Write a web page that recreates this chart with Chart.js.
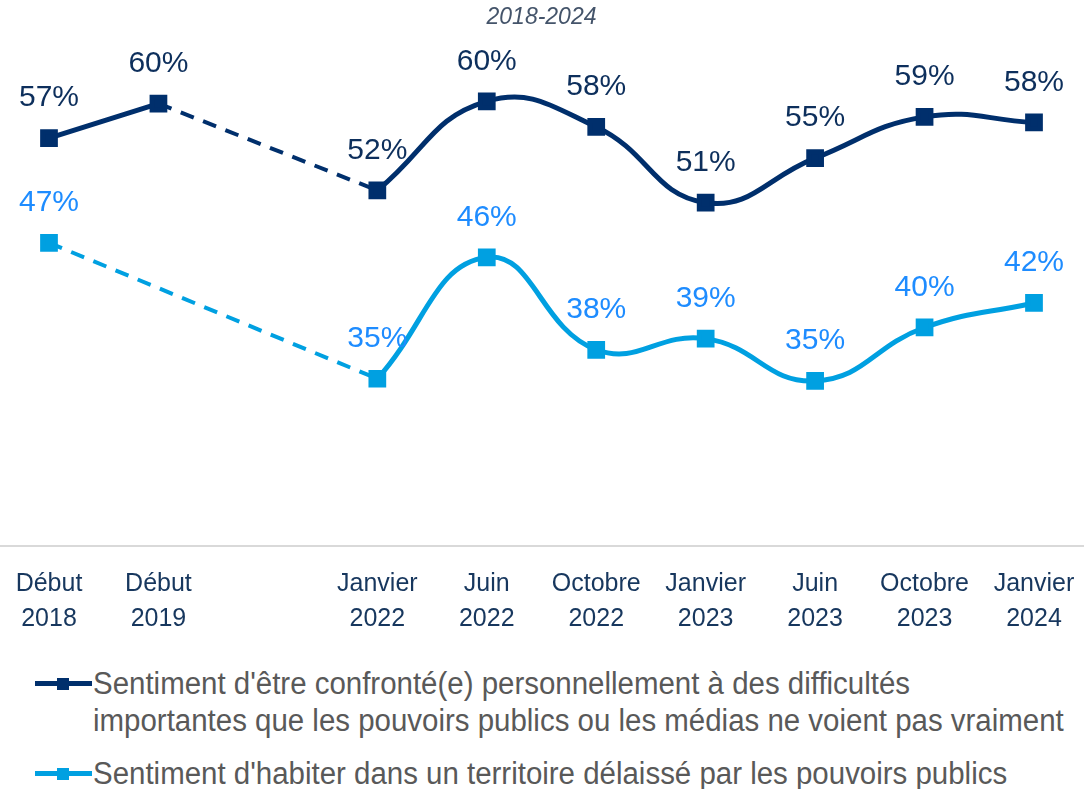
<!DOCTYPE html>
<html>
<head>
<meta charset="utf-8">
<script src="https://cdn.jsdelivr.net/npm/chart.js@4"></script>
<style>
    html, body { margin: 0; padding: 0; background: #fff; overflow: hidden; }
    body { width: 1084px; height: 789px; position: relative; }
    #wrap { position: absolute; left: -2px; top: 0; width: 1096px; height: 647px; }
    .item { position: absolute; left: 0; font-family: "Liberation Sans", Arial, sans-serif; font-size: 31px; line-height: 37px; color: #595959; }
    .item .mark { position: absolute; left: 35px; top: 16px; width: 57px; height: 5px; }
    .item .mark::after { content: ""; position: absolute; left: 22px; top: -3.5px; width: 12px; height: 12px; background: inherit; }
    .item .txt { position: absolute; left: 93px; top: 0; white-space: nowrap; transform: scaleX(0.95); transform-origin: 0 0; }
</style>
</head>
<body>
<div id="wrap"><canvas id="sentimentChart"></canvas></div>
<div class="item" style="top:665px"><span class="mark" style="background:#002f6c"></span><span class="txt">Sentiment d'être confronté(e) personnellement à des difficultés<br>importantes que les pouvoirs publics ou les médias ne voient pas vraiment</span></div>
<div class="item" style="top:755px"><span class="mark" style="background:#00a0e1"></span><span class="txt">Sentiment d'habiter dans un territoire délaissé par les pouvoirs publics</span></div>
<script>
// Données (en %)
const periods = [
    ["Début", "2018"], ["Début", "2019"], "",
    ["Janvier", "2022"], ["Juin", "2022"], ["Octobre", "2022"],
    ["Janvier", "2023"], ["Juin", "2023"], ["Octobre", "2023"], ["Janvier", "2024"],
];
const difficultes = [56.7, 59.8, null, 52.0, 60.0, 57.7, 50.9, 54.9, 58.6, 58.1];
const delaisse = [47.3, null, null, 35.1, 46.0, 37.7, 38.7, 34.9, 39.7, 41.9];

// portions en pointillés (entre points non consécutifs)
const difficultesGap = [null, 59.8, null, 52.0, null, null, null, null, null, null];
const delaisseGap = [47.3, null, null, 35.1, null, null, null, null, null, null];

const colors = {
    dark: "#002f6c",
    light: "#00a0e1",
    darkLabel: "#0d2f5c",
    lightLabel: "#1e8cff",
    axis: "#d9d9d9",
    tick: "#17375e",
    title: "#44546a",
};

// ligne d'axe sur toute la largeur
const axisLine = {
    id: "axisLine",
    beforeDatasetsDraw(chart) {
        const ctx = chart.ctx;
        ctx.save();
        ctx.strokeStyle = colors.axis;
        ctx.lineWidth = 2;
        ctx.beginPath();
        ctx.moveTo(0, chart.chartArea.bottom - 1);
        ctx.lineTo(chart.width, chart.chartArea.bottom - 1);
        ctx.stroke();
        ctx.restore();
    },
};

const valueLabels = {
    id: "valueLabels",
    afterDatasetsDraw(chart) {
        const ctx = chart.ctx;
        ctx.save();
        ctx.font = "30px 'Liberation Sans', Arial, sans-serif";
        ctx.textAlign = "center";
        ctx.textBaseline = "middle";
        [0, 1].forEach((di) => {
            const ds = chart.data.datasets[di];
            ctx.fillStyle = di === 0 ? colors.darkLabel : colors.lightLabel;
            chart.getDatasetMeta(di).data.forEach((pt, i) => {
                if (ds.data[i] == null) return;
                ctx.fillText(Math.round(ds.data[i]) + "%", pt.x, pt.y - 40);
            });
        });
        ctx.restore();
    },
};

const lineStyle = {
    borderWidth: 5,
    tension: 0.45,
    pointStyle: "rect",
    pointRadius: 9,
    pointHoverRadius: 9,
    spanGaps: false,
};

new Chart(document.getElementById("sentimentChart").getContext("2d"), {
    type: "line",
    data: {
        labels: periods,
        datasets: [
            {
                label: "Sentiment d'être confronté(e) personnellement à des difficultés importantes que les pouvoirs publics ou les médias ne voient pas vraiment",
                data: difficultes,
                borderColor: colors.dark,
                backgroundColor: colors.dark,
                ...lineStyle,
            },
            {
                label: "Sentiment d'habiter dans un territoire délaissé par les pouvoirs publics",
                data: delaisse,
                borderColor: colors.light,
                backgroundColor: colors.light,
                ...lineStyle,
            },
            {
                label: "",
                data: difficultesGap,
                borderColor: colors.dark,
                borderWidth: 4,
                borderDash: [14, 10],
                tension: 0,
                pointRadius: 0,
                spanGaps: true,
            },
            {
                label: "",
                data: delaisseGap,
                borderColor: colors.light,
                borderWidth: 4,
                borderDash: [14, 10],
                tension: 0,
                pointRadius: 0,
                spanGaps: true,
            },
        ],
    },
    options: {
        responsive: true,
        maintainAspectRatio: false,
        animation: false,
        layout: { padding: { left: 51, right: 60, top: 0, bottom: 0 } },
        plugins: {
            legend: { display: false },
            tooltip: { enabled: false },
            title: {
                display: true,
                text: "2018-2024",
                color: colors.title,
                font: { family: "'Liberation Sans', sans-serif", size: 23, style: "italic", weight: "normal", lineHeight: 1.2 },
                padding: { top: 4, bottom: 47.4 },
            },
        },
        scales: {
            x: {
                grid: { display: false },
                border: { display: false },
                ticks: {
                    color: colors.tick,
                    font: { family: "'Liberation Sans', Arial, sans-serif", size: 25, lineHeight: 1.4 },
                    maxRotation: 0,
                    autoSkip: false,
                    padding: 12,
                },
                afterFit(scale) { scale.height = 100; },
            },
            y: {
                display: false,
                min: 20,
                max: 62,
            },
        },
    },
    plugins: [axisLine, valueLabels],
});
</script>
</body>
</html>
